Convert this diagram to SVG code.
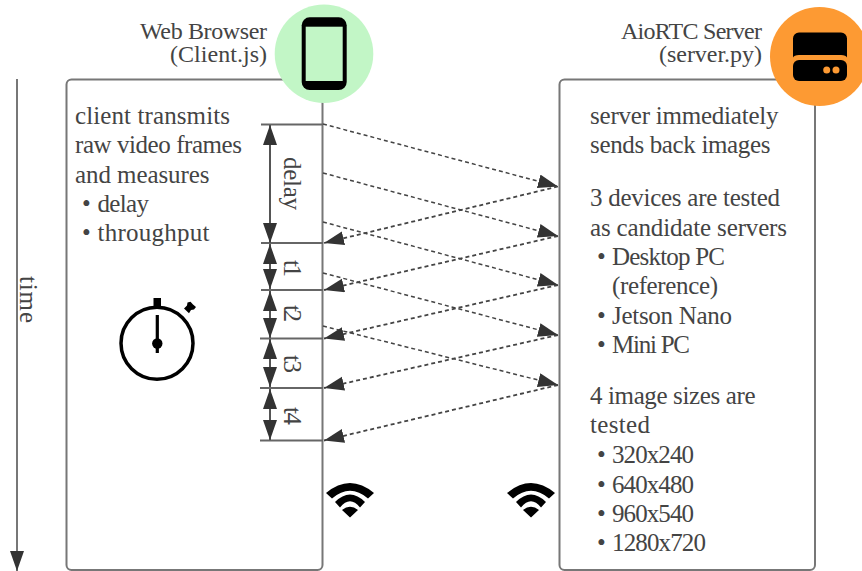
<svg xmlns="http://www.w3.org/2000/svg" width="862" height="571" viewBox="0 0 862 571">
<defs>
<marker id="ah" markerUnits="userSpaceOnUse" markerWidth="22" markerHeight="16" refX="20" refY="7" orient="auto"><path d="M0 0L20 7L0 14Z" fill="#333"/></marker>
<marker id="as" markerUnits="userSpaceOnUse" markerWidth="22" markerHeight="16" refX="20" refY="7" orient="auto-start-reverse"><path d="M0 0L20 7L0 14Z" fill="#333"/></marker>
<path id="wifi" d="M-24 10Q0-10 24 10L18 15.500Q0 0-18 15.500ZM-15 19Q0 4 15 19L10 24.500Q0 12-10 24.500ZM-8 27Q0 20.500 8 27L0 34.500Z" fill="#000"/>
</defs>
<style>
text{font-family:"Liberation Serif","Noto Serif",serif;font-size:25px;fill:#444}
.head{font-size:24px}
.box{fill:#fff;stroke:#777;stroke-width:2}
.dash{fill:none;stroke:#444;stroke-width:1.500;stroke-dasharray:4 3;marker-end:url(#ah)}
.ret{stroke-width:1.800}
.tick{stroke:#666;stroke-width:2}
.dim{stroke:#555;stroke-width:2;marker-start:url(#as);marker-end:url(#as)}
.lbl{font-size:25px}
</style>
<g id="time-axis">
<line x1="17" y1="79" x2="17" y2="571" stroke="#777" stroke-width="2" marker-end="url(#ah)"/>
<text class="lbl" transform="translate(20,276) rotate(90)" textLength="47">time</text>
</g>
<g id="client-box">
<rect class="box" x="66.500" y="79.500" width="256" height="490.500" rx="5"/>
<text x="75" y="124" textLength="155">client transmits</text>
<text x="75" y="153" textLength="167">raw video frames</text>
<text x="75" y="183" textLength="134.500">and measures</text>
<text x="82" y="212">•<tspan x="97.500" textLength="51.500">delay</tspan></text>
<text x="82" y="241">•<tspan x="97.500" textLength="112">throughput</tspan></text>
</g>
<g id="server-box">
<rect class="box" x="559.500" y="79.500" width="255.500" height="490.500" rx="5"/>
<text x="590" y="124" textLength="188.500">server immediately</text>
<text x="590" y="153" textLength="180.500">sends back images</text>
<text x="590" y="206" textLength="190">3 devices are tested</text>
<text x="590" y="236" textLength="197">as candidate servers</text>
<text x="597" y="265">•<tspan x="612" textLength="113">Desktop PC</tspan></text>
<text x="612" y="294" textLength="106">(reference)</text>
<text x="597" y="324">•<tspan x="612" textLength="120">Jetson Nano</tspan></text>
<text x="597" y="353">•<tspan x="612" textLength="78">Mini PC</tspan></text>
<text x="590" y="404" textLength="165.500">4 image sizes are</text>
<text x="590" y="433" textLength="60">tested</text>
<text x="597" y="463">•<tspan x="612" textLength="82">320x240</tspan></text>
<text x="597" y="492.500">•<tspan x="612" textLength="82">640x480</tspan></text>
<text x="597" y="521.500">•<tspan x="612" textLength="82">960x540</tspan></text>
<text x="597" y="551">•<tspan x="612" textLength="94">1280x720</tspan></text>
</g>
<g id="connectors">
<line class="dash" x1="323" y1="124" x2="558" y2="186.500"/>
<line class="dash" x1="323" y1="173" x2="558" y2="236"/>
<line class="dash" x1="323" y1="222" x2="558" y2="285"/>
<line class="dash" x1="323" y1="273" x2="558" y2="335"/>
<line class="dash" x1="323" y1="326" x2="558" y2="385"/>
<line class="dash ret" x1="558" y1="186.500" x2="324" y2="243"/>
<line class="dash ret" x1="558" y1="236" x2="324" y2="290"/>
<line class="dash ret" x1="558" y1="285" x2="324" y2="338.500"/>
<line class="dash ret" x1="558" y1="335" x2="324" y2="388"/>
<line class="dash ret" x1="558" y1="385" x2="324" y2="440.500"/>
<line class="tick" x1="261" y1="124.500" x2="323" y2="124.500"/>
<line class="tick" x1="261" y1="243" x2="323" y2="243"/>
<line class="tick" x1="261" y1="290" x2="323" y2="290"/>
<line class="tick" x1="260" y1="338.500" x2="323" y2="338.500"/>
<line class="tick" x1="260" y1="388" x2="323" y2="388"/>
<line class="tick" x1="260" y1="440.500" x2="323" y2="440.500"/>
<line class="dim" x1="270" y1="125" x2="270" y2="243"/>
<line class="dim" x1="270" y1="244" x2="270" y2="289"/>
<line class="dim" x1="270" y1="291" x2="270" y2="338"/>
<line class="dim" x1="270" y1="339" x2="270" y2="387"/>
<line class="dim" x1="270" y1="389" x2="270" y2="440"/>
</g>
<g id="delay-labels">
<text class="lbl" transform="translate(283.500,157) rotate(90)" textLength="53">delay</text>
<text class="lbl" transform="translate(283.500,260) rotate(90)" textLength="17">t1</text>
<text class="lbl" transform="translate(283.500,305) rotate(90)" textLength="17">t2</text>
<text class="lbl" transform="translate(283.500,355) rotate(90)" textLength="18">t3</text>
<text class="lbl" transform="translate(283.500,407) rotate(90)" textLength="18">t4</text>
</g>
<g id="stopwatch">
<circle cx="157" cy="343.300" r="36" fill="none" stroke="#000" stroke-width="3.500"/>
<rect x="153.500" y="298" width="7.500" height="8"/>
<line x1="157.300" y1="315" x2="157.300" y2="353" stroke="#000" stroke-width="3.200"/>
<circle cx="157.300" cy="343.500" r="5.200"/>
<path d="M184 308.500L187 305.500L187.500 302.500L190.500 301.700L193 304.500L196 307L194 309.500L191 310L189 313.300Z"/>
</g>
<g id="browser">
<text class="head" x="267" y="39" text-anchor="end" textLength="127">Web Browser</text>
<text class="head" x="267" y="62" text-anchor="end" textLength="97">(Client.js)</text>
<circle cx="324" cy="53.700" r="49.300" fill="#c2f6c6"/>
<rect x="301.700" y="17.300" width="45" height="72.700" rx="8"/>
<rect x="305.700" y="26.700" width="37" height="54.300" fill="#c2f6c6"/>
</g>
<g id="server">
<text class="head" x="762" y="39" text-anchor="end" textLength="141">AioRTC Server</text>
<text class="head" x="762" y="62" text-anchor="end" textLength="103">(server.py)</text>
<circle cx="819.500" cy="56.500" r="49.500" fill="#fd9a33"/>
<path d="M799 32.500H841a6 6 0 0 1 6 6V57.500Q846 55 841 55H799Q794 55 793 57.500V38.500a6 6 0 0 1 6-6Z"/>
<rect x="793" y="60" width="54" height="21" rx="6"/>
<circle cx="826.700" cy="70" r="3.500" fill="#fd9a33"/>
<circle cx="836" cy="70" r="3.500" fill="#fd9a33"/>
</g>
<g id="wifi-client"><use href="#wifi" x="350" y="483"/></g>
<g id="wifi-server"><use href="#wifi" x="531" y="483"/></g>
</svg>
